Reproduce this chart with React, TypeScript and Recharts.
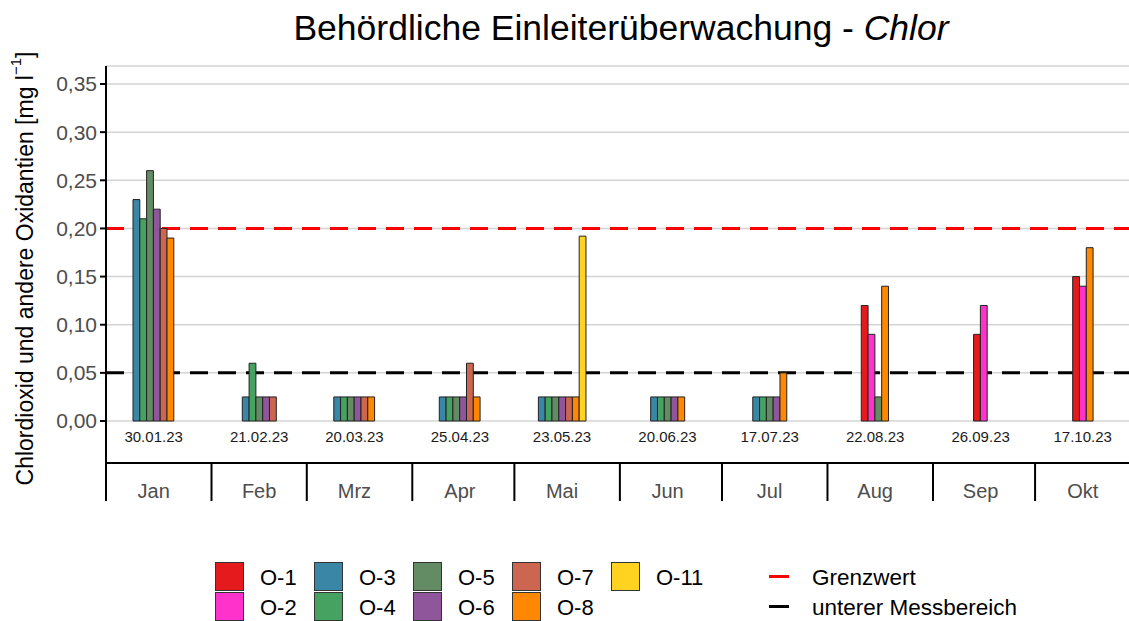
import React from 'react';
import {
  BarChart, Bar, XAxis, YAxis, CartesianGrid, ReferenceLine, Cell,
} from 'recharts';

const months = ['Jan', 'Feb', 'Mrz', 'Apr', 'Mai', 'Jun', 'Jul', 'Aug', 'Sep', 'Okt'];
const monthLengths = [31, 28, 31, 30, 31, 30, 31, 31, 30, 31];
const sampleDates = ['30.01.23', '21.02.23', '20.03.23', '25.04.23', '23.05.23', '20.06.23', '17.07.23', '22.08.23', '26.09.23', '17.10.23'];

const stations = ['O-1', 'O-2', 'O-3', 'O-4', 'O-5', 'O-6', 'O-7', 'O-8', 'O-11'];
const stationColors = ['#e41a1c', '#ff33cc', '#3a86a6', '#46a260', '#638c65', '#8f569b', '#cc6650', '#ff8800', '#ffd31f'];

const o1 = [null, null, null, null, null, null, null, 0.12, 0.09, 0.15];
const o2 = [null, null, null, null, null, null, null, 0.09, 0.12, 0.14];
const o3 = [0.23, 0.025, 0.025, 0.025, 0.025, 0.025, 0.025, null, null, null];
const o4 = [0.21, 0.06, 0.025, 0.025, 0.025, 0.025, 0.025, null, null, null];
const o5 = [0.26, 0.025, 0.025, 0.025, 0.025, 0.025, 0.025, 0.025, null, null];
const o6 = [0.22, 0.025, 0.025, 0.025, 0.025, 0.025, 0.025, null, null, null];
const o7 = [0.20, 0.025, 0.025, 0.06, 0.025, null, null, null, null, null];
const o8 = [0.19, null, 0.025, 0.025, 0.025, 0.025, 0.05, 0.14, null, 0.18];
const o11 = [null, null, null, null, 0.192, null, null, null, null, null];
const seriesValues = [o1, o2, o3, o4, o5, o6, o7, o8, o11];

const grenzwert = 0.2;
const messbereich = 0.05;
const yTicks = [0, 0.05, 0.1, 0.15, 0.2, 0.25, 0.3, 0.35];

const FONT = '"Liberation Sans", Arial, sans-serif';
const X_MAX = 300.6;
const BAR_W = 6.8;

const monthStarts = monthLengths.map((_, i) => monthLengths.slice(0, i).reduce((a, b) => a + b, 0));
const sampleDays = monthStarts.map(s => s + 14);

// groups with odd count sit on axis "a" (7 slots), even on axis "b" (6 slots) so each group is centred
const A_SLOTS = ['a0', 'a1', 'a2', 'a3', 'a4', 'a5', 'a6'];
const B_SLOTS = ['b0', 'b1', 'b2', 'b3', 'b4', 'b5'];

const rows = months.map((m, i) => {
  const row: any = { day: sampleDays[i], month: m, date: sampleDates[i] };
  const present = seriesValues
    .map((vals, si) => ({ si, v: vals[i] }))
    .filter(p => p.v != null);
  const n = present.length;
  const odd = n % 2 === 1;
  const slots = odd ? A_SLOTS.length : B_SLOTS.length;
  const prefix = odd ? 'a' : 'b';
  const start = (slots - n) / 2;
  present.forEach((p, k) => {
    row[`${prefix}${start + k}`] = p.v;
    row[`${prefix}${start + k}s`] = p.si;
  });
  return row;
});

const xTicks = [...monthStarts, ...sampleDays];

const XTick = (props: any) => {
  const { x, y, payload } = props;
  const v = payload.value;
  if (monthStarts.includes(v)) {
    return <line x1={x} x2={x} y1={y} y2={y + 38} stroke="#000" strokeWidth={2} />;
  }
  const i = sampleDays.indexOf(v);
  if (i < 0) return null;
  return (
    <g>
      <text x={x} y={y - 21} textAnchor="middle" fontSize={15} fill="#1a1a1a" fontFamily={FONT}>{sampleDates[i]}</text>
      <text x={x} y={y + 35} textAnchor="middle" fontSize={20} fill="#4d4d4d" fontFamily={FONT}>{months[i]}</text>
    </g>
  );
};

const YLabel = (props: any) => {
  const vb = props.viewBox || { x: 0, y: 66, width: 106, height: 397 };
  const cx = 25;
  const cy = vb.y + vb.height / 2 + 4;
  return (
    <text
      x={cx}
      y={cy}
      transform={`rotate(-90, ${cx}, ${cy})`}
      textAnchor="middle"
      dominantBaseline="central"
      fontSize={23}
      fill="#000"
      fontFamily={FONT}
    >
      Chlordioxid und andere Oxidantien [mg l
      <tspan fontSize={15} dy={-10}>−1</tspan>
      <tspan dy={10}>]</tspan>
    </text>
  );
};

const legendCols = [[0, 1], [2, 3], [4, 5], [6, 7], [8]];

const App = () => {
  return (
    <div style={{ position: 'absolute', left: 0, top: 0, width: 1129, height: 621, background: '#fff', fontFamily: FONT, overflow: 'hidden' }}>
      <div style={{ position: 'absolute', left: 621, top: 7, transform: 'translateX(-50%)', fontSize: 35.5, whiteSpace: 'nowrap', color: '#000', lineHeight: '42px' }}>
        Behördliche Einleiterüberwachung - <i>Chlor</i>
      </div>

      <BarChart width={1129} height={621} data={rows} margin={{ top: 66, right: 0, left: 0, bottom: 0 }} barGap={0}>
        <CartesianGrid horizontal vertical={false} stroke="#d4d4d4" strokeWidth={1.5} />
        <XAxis
          type="number"
          dataKey="day"
          domain={[0, X_MAX]}
          allowDataOverflow
          ticks={xTicks}
          interval={0}
          height={158}
          tickSize={0}
          tickMargin={0}
          tickLine={false}
          axisLine={{ stroke: '#000', strokeWidth: 2 }}
          tick={<XTick />}
        />
        <XAxis xAxisId="b" type="number" dataKey="day" domain={[0, X_MAX]} allowDataOverflow hide />
        <YAxis
          width={106}
          domain={[-0.0436, 0.3687]}
          allowDataOverflow
          ticks={yTicks}
          interval={0}
          tickFormatter={(v: number) => v.toFixed(2).replace('.', ',')}
          tick={{ fill: '#4d4d4d', fontSize: 21, fontFamily: FONT }}
          tickSize={6}
          tickMargin={3}
          tickLine={{ stroke: '#000', strokeWidth: 2 }}
          axisLine={{ stroke: '#000', strokeWidth: 2 }}
          label={<YLabel />}
        />
        <ReferenceLine y={grenzwert} stroke="#ff0000" strokeWidth={3} strokeDasharray="18 10" zIndex={0} />
        <ReferenceLine y={messbereich} stroke="#000" strokeWidth={3} strokeDasharray="18 10" zIndex={0} />
        {A_SLOTS.map(k => (
          <Bar key={k} dataKey={k} barSize={BAR_W} stroke="#222" strokeWidth={1} isAnimationActive={false}>
            {rows.map((r, i) => (
              <Cell key={i} fill={r[k + 's'] != null ? stationColors[r[k + 's']] : 'none'} />
            ))}
          </Bar>
        ))}
        {B_SLOTS.map(k => (
          <Bar key={k} xAxisId="b" dataKey={k} barSize={BAR_W} stroke="#222" strokeWidth={1} isAnimationActive={false}>
            {rows.map((r, i) => (
              <Cell key={i} fill={r[k + 's'] != null ? stationColors[r[k + 's']] : 'none'} />
            ))}
          </Bar>
        ))}
      </BarChart>

      {legendCols.map((col, ci) =>
        col.map((si, ri) => (
          <React.Fragment key={stations[si]}>
            <div style={{ position: 'absolute', left: 215 + ci * 99, top: 562 + ri * 30, width: 29, height: 29, boxSizing: 'border-box', background: stationColors[si], border: '1px solid #333' }} />
            <div style={{ position: 'absolute', left: 260 + ci * 99, top: 562 + ri * 30, height: 29, lineHeight: '31px', fontSize: 22, color: '#000' }}>{stations[si]}</div>
          </React.Fragment>
        ))
      )}
      {[['Grenzwert', '#ff0000'], ['unterer Messbereich', '#000']].map(([label, color], i) => (
        <React.Fragment key={label}>
          <div style={{ position: 'absolute', left: 769, top: 575 + i * 30, width: 20, height: 3, background: color }} />
          <div style={{ position: 'absolute', left: 812, top: 562 + i * 30, height: 29, lineHeight: '31px', fontSize: 22.5, color: '#000', whiteSpace: 'nowrap' }}>{label}</div>
        </React.Fragment>
      ))}
    </div>
  );
};

export default App;
